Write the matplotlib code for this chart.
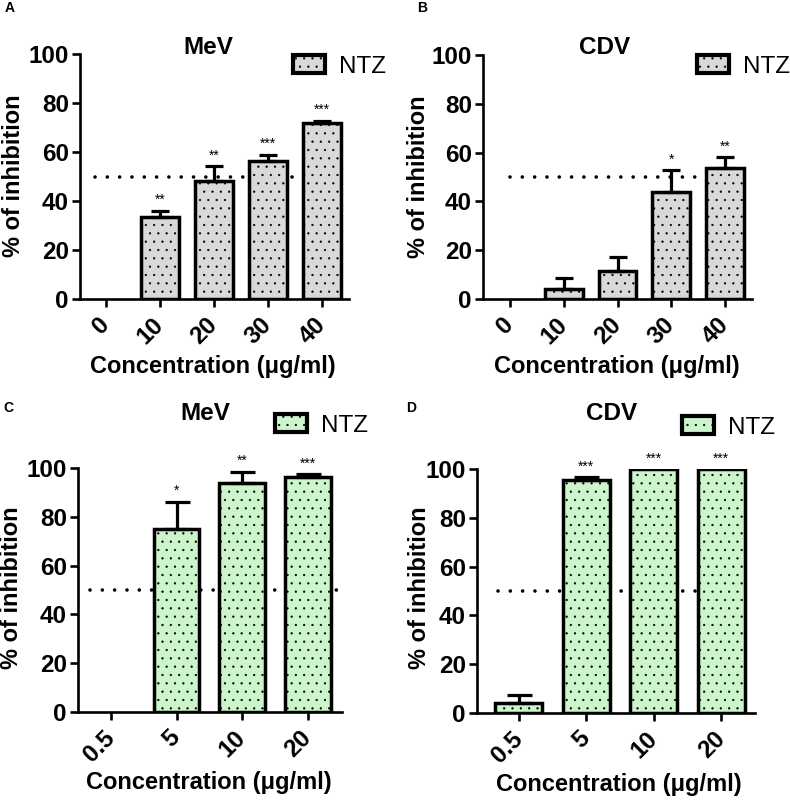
import matplotlib
matplotlib.use("Agg")
import matplotlib.pyplot as plt
from matplotlib.patches import Patch
import numpy as np

plt.rcParams['font.family'] = ['Liberation Sans', 'DejaVu Sans']
plt.rcParams['hatch.linewidth'] = 0.4

# ---- data ----
cats_top = ["0", "10", "20", "30", "40"]
cats_bot = ["0.5", "5", "10", "20"]

mev_top = [0, 33.3, 48.3, 56.5, 72.0]
mev_top_err = [0, 2.7, 6.0, 2.4, 0.8]
mev_top_sig = ["", "**", "**", "***", "***"]

cdv_top = [0, 4.2, 11.3, 44.0, 53.5]
cdv_top_err = [0, 4.5, 5.8, 8.7, 4.7]
cdv_top_sig = ["", "", "", "*", "**"]

mev_bot = [0, 75.0, 94.0, 96.5]
mev_bot_err = [0, 11.2, 4.5, 1.0]
mev_bot_sig = ["", "*", "**", "***"]

cdv_bot = [4.0, 95.5, 100.0, 100.0]
cdv_bot_err = [3.2, 1.2, 0, 0]
cdv_bot_sig = ["", "***", "***", "***"]

W, H = 790, 800
fig = plt.figure(figsize=(W / 100, H / 100), dpi=100)

GREY = "#d9d9d9"
GREEN = "#ccf5cc"
FS = 17.5


def px2fig(x, y):
    return x / W, 1 - y / H


def panel(rect_px, cats, vals, errs, sigs, color, xlim, line_ext, capsize,
          title, title_xy, leg_xy, ylab_xy, xlab_xy, letter, letter_xy):
    x0, y0, x1, y1 = rect_px
    ax = fig.add_axes([x0 / W, 1 - y1 / H, (x1 - x0) / W, (y1 - y0) / H])
    x = np.arange(len(cats))
    ax.plot(line_ext, [50, 50], color="black", lw=2.6,
            linestyle=(0, (0.01, 3.4)), dash_capstyle="round", zorder=1)
    bars = ax.bar(x, vals, width=0.7, color=color, edgecolor="black",
                  linewidth=2.5, hatch="..", zorder=2, label="NTZ")
    for b, v in zip(bars, vals):
        if v == 0:
            b.set_linewidth(0)
            b.set_hatch(None)
    for i, (v, e) in enumerate(zip(vals, errs)):
        if v > 0 and e > 0:
            ax.errorbar(x[i], v, yerr=[[0], [e]], fmt="none", ecolor="black",
                        elinewidth=2.3, capsize=capsize, capthick=2.3, zorder=3)
    for i, (v, e, s) in enumerate(zip(vals, errs, sigs)):
        if s:
            ax.text(x[i], v + e + 1.5, s, ha="center", va="bottom",
                    fontsize=10, zorder=4)
    ax.set_xlim(*xlim)
    ax.set_ylim(0, 100)
    ax.set_yticks([0, 20, 40, 60, 80, 100])
    ax.set_xticks(x)
    ax.set_xticklabels(cats, rotation=45, ha="right", va="center",
                       rotation_mode="anchor", fontweight="bold", fontsize=FS)
    for lab in ax.get_yticklabels():
        lab.set_fontweight("bold")
        lab.set_fontsize(FS)
    ax.tick_params(axis="both", direction="out", length=6, width=1.9,
                   pad=2)
    ax.tick_params(axis="x", pad=10)
    for side in ["top", "right"]:
        ax.spines[side].set_visible(False)
    for side in ["left", "bottom"]:
        ax.spines[side].set_linewidth(1.9)
    ax.spines["left"].set_zorder(5)
    fx, fy = px2fig(*title_xy)
    fig.text(fx, fy, title, ha="center", va="center", fontsize=17.5,
             fontweight="bold")
    lx, ly = px2fig(*leg_xy)
    handle = Patch(facecolor=color, edgecolor="black", hatch="..",
                   linewidth=3.0)
    ax.legend(handles=[handle], labels=["NTZ"], loc="center left",
              bbox_to_anchor=(lx, ly), bbox_transform=fig.transFigure,
              frameon=False, fontsize=17.5, handlelength=1.3,
              handleheight=0.75, borderpad=0, handletextpad=0.6,
              borderaxespad=0)
    yx, yy = px2fig(*ylab_xy)
    fig.text(yx, yy, "% of inhibition", rotation=90, ha="center",
             va="center", fontsize=17, fontweight="bold")
    xx, xy = px2fig(*xlab_xy)
    fig.text(xx, xy, "Concentration (μg/ml)", ha="center", va="center",
             fontsize=17, fontweight="bold")
    px, py = px2fig(*letter_xy)
    fig.text(px, py, letter, ha="center", va="center", fontsize=10,
             fontweight="bold")
    return ax


panel((80, 54, 349, 299), cats_top, mev_top, mev_top_err, mev_top_sig, GREY,
      (-0.48, 4.5), (-0.2, 4.2), 6.5, "MeV", (208, 48), (293, 66.5),
      (14, 176), (213, 366), "A", (10, 8))
panel((483, 55, 752, 299), cats_top, cdv_top, cdv_top_err, cdv_top_sig, GREY,
      (-0.5, 4.5), (0.0, 4.2), 6.5, "CDV", (605, 48), (697, 66.5),
      (418, 177), (617, 366), "B", (422, 8))
panel((78, 468, 342, 712), cats_bot, mev_bot, mev_bot_err, mev_bot_sig, GREEN,
      (-0.5, 3.52), (-0.32, 3.46), 9, "MeV", (205, 413), (275, 425.5),
      (12, 588), (209, 783), "C", (8, 408))
panel((477, 469, 755, 713), cats_bot, cdv_bot, cdv_bot_err, cdv_bot_sig, GREEN,
      (-0.62, 3.5), (-0.31, 3.33), 9, "CDV", (612, 413), (682, 427.5),
      (419, 588), (619, 785), "D", (411, 408))

fig.savefig("out.png", dpi=100)
